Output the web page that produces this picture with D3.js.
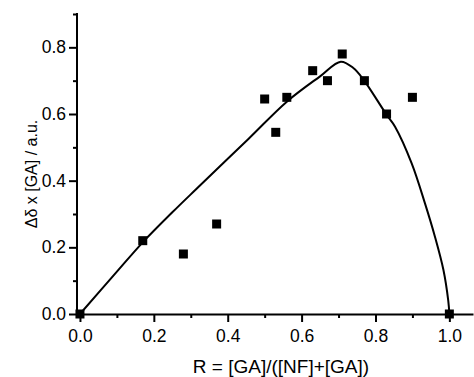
<!DOCTYPE html>
<html>
<head>
<meta charset="utf-8">
<script src="https://cdn.jsdelivr.net/npm/d3@7"></script>
<style>
  body { margin: 0; background: #fff; }
  svg { display: block; font-family: "Liberation Sans", Arial, sans-serif; }
</style>
</head>
<body>
<svg id="chart" width="474" height="377"></svg>
<script>
// Measured points
const ratioR = [0.0, 0.17, 0.28, 0.37, 0.50, 0.53, 0.56, 0.63, 0.67, 0.71, 0.77, 0.83, 0.90, 1.0];
const shiftGA = [0.0, 0.22, 0.18, 0.27, 0.645, 0.545, 0.65, 0.73, 0.70, 0.78, 0.70, 0.60, 0.65, 0.0];

// Fitted curve
const fitR = [0.0, 0.1, 0.17, 0.25, 0.315, 0.456, 0.56, 0.65, 0.706, 0.74, 0.767, 0.83, 0.853, 0.898, 0.934, 0.961, 0.984, 0.997, 1.0];
const fitY = [0.0, 0.127, 0.215, 0.305, 0.375, 0.525, 0.637, 0.713, 0.757, 0.738, 0.704, 0.598, 0.562, 0.452, 0.332, 0.232, 0.132, 0.04, 0.0];

const xMajor = [0.0, 0.2, 0.4, 0.6, 0.8, 1.0];
const xMinor = [0.1, 0.3, 0.5, 0.7, 0.9];
const yMajor = [0.0, 0.2, 0.4, 0.6, 0.8];
const yMinor = [0.1, 0.3, 0.5, 0.7, 0.9];

const svg = d3.select('#chart');

const x = d3.scaleLinear().domain([-0.008, 1.064]).range([77, 473]);
const y = d3.scaleLinear().domain([0, 0.9]).range([314, 14]);
const fmt = d3.format('.1f');

// x axis
const gx = svg.append('g').attr('transform', 'translate(0,314)');
gx.call(d3.axisBottom(x).tickValues(xMajor).tickFormat(fmt).tickSize(8).tickSizeOuter(0).tickPadding(8));
gx.append('g').call(d3.axisBottom(x).tickValues(xMinor).tickFormat('').tickSize(4).tickSizeOuter(0))
  .select('.domain').remove();

// y axis
const gy = svg.append('g').attr('transform', 'translate(77,0)');
gy.call(d3.axisLeft(y).tickValues(yMajor).tickFormat(fmt).tickSize(8).tickSizeOuter(0).tickPadding(3));
gy.append('g').call(d3.axisLeft(y).tickValues(yMinor).tickFormat('').tickSize(4).tickSizeOuter(0))
  .select('.domain').remove();
gy.select('.domain').attr('d', `M0,${y(0) + 1}V13`);

svg.selectAll('.domain').attr('stroke', '#000').attr('stroke-width', 2);
svg.selectAll('.tick line').attr('stroke', '#000').attr('stroke-width', 2);
svg.selectAll('.tick text')
  .attr('fill', '#000')
  .style('font-size', '17.5px')
  .style('font-family', '"Liberation Sans", Arial, sans-serif');

// fitted curve
const line = d3.line()
  .x(d => x(d[0]))
  .y(d => y(d[1]))
  .curve(d3.curveCatmullRom.alpha(0.5));

svg.append('path')
  .datum(d3.zip(fitR, fitY))
  .attr('d', line)
  .attr('fill', 'none')
  .attr('stroke', '#000')
  .attr('stroke-width', 2);

// square markers
const s = 9;
svg.append('g')
  .selectAll('rect')
  .data(d3.zip(ratioR, shiftGA))
  .enter()
  .append('rect')
  .attr('x', d => x(d[0]) - s / 2)
  .attr('y', d => y(d[1]) - s / 2)
  .attr('width', s)
  .attr('height', s)
  .attr('fill', '#000');

// axis titles
svg.append('text')
  .attr('x', 281)
  .attr('y', 373)
  .attr('text-anchor', 'middle')
  .style('font-size', '19px')
  .text('R = [GA]/([NF]+[GA])');

svg.append('text')
  .attr('transform', 'translate(37,174) rotate(-90)')
  .attr('text-anchor', 'middle')
  .style('font-size', '16px')
  .text('Δδ x [GA] / a.u.');
</script>
</body>
</html>
